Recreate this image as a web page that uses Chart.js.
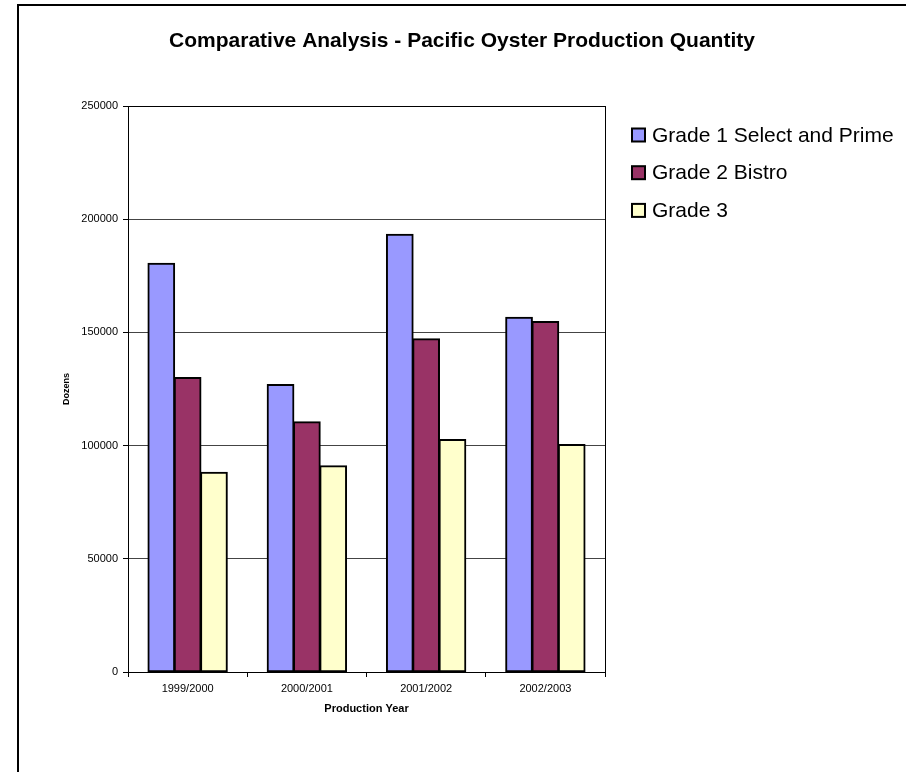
<!DOCTYPE html>
<html>
<head>
<meta charset="utf-8">
<title>Pacific Oyster Production Quantity</title>
<script src="https://cdn.jsdelivr.net/npm/chart.js@4/dist/chart.umd.min.js"></script>
<style>
    html, body { margin: 0; padding: 0; background: #fff; }
    #wrap { position: relative; width: 906px; height: 772px; }
</style>
</head>
<body>
<div id="wrap"><canvas id="oysterChart"></canvas></div>
<script>
// values (dozens)
const years = ['1999/2000', '2000/2001', '2001/2002', '2002/2003'];
const grade1 = [180400, 126900, 193300, 156600];
const grade2 = [130000, 110400, 147100, 154700];
const grade3 = [88100, 91000, 102600, 100400];
const seriesNames = ['Grade 1 Select and Prime', 'Grade 2 Bistro', 'Grade 3'];
const seriesColors = ['#9999FF', '#993366', '#FFFFCC'];
const chartTitle = 'Comparative Analysis - Pacific Oyster Production Quantity';

Chart.defaults.font.family = "'Liberation Sans', Arial, sans-serif";
Chart.defaults.color = '#000';

// frame, title, plot border and legend, drawn on top of the chart
const decorations = {
    id: 'decorations',
    afterDraw(chart) {
        const ctx = chart.ctx;
        const area = chart.chartArea;
        ctx.save();

        // outer frame (runs off the right and bottom edge)
        ctx.strokeStyle = '#000';
        ctx.lineWidth = 2;
        ctx.strokeRect(18, 5, 1000, 1000);

        // plot area border
        ctx.lineWidth = 1;
        ctx.strokeRect(Math.round(area.left) + 0.5, Math.round(area.top) + 0.5,
            Math.round(area.right - area.left), Math.round(area.bottom - area.top));

        // title
        ctx.fillStyle = '#000';
        ctx.font = "bold 21px 'Liberation Sans', Arial, sans-serif";
        ctx.textAlign = 'center';
        ctx.textBaseline = 'middle';
        ctx.fillText(chartTitle, 462, 41);

        // legend
        ctx.font = "21px 'Liberation Sans', Arial, sans-serif";
        ctx.textAlign = 'left';
        chart.data.datasets.forEach((ds, i) => {
            const cy = 135 + i * 37.7;
            ctx.fillStyle = ds.backgroundColor;
            ctx.fillRect(632, cy - 6.5, 13, 13);
            ctx.lineWidth = 2;
            ctx.strokeStyle = '#000';
            ctx.strokeRect(632, cy - 6.5, 13, 13);
            ctx.fillStyle = '#000';
            ctx.fillText(ds.label, 652, cy + 1);
        });
        ctx.restore();
    }
};

const ctx = document.getElementById('oysterChart').getContext('2d');
const oysterChart = new Chart(ctx, {
    type: 'bar',
    data: {
        labels: years,
        datasets: [grade1, grade2, grade3].map((vals, i) => ({
            label: seriesNames[i],
            data: vals,
            backgroundColor: seriesColors[i],
            borderColor: '#000',
            borderWidth: 2,
            borderSkipped: false,
            inflateAmount: 0.7,
            categoryPercentage: 0.6625,
            barPercentage: 1.0
        }))
    },
    options: {
        responsive: true,
        maintainAspectRatio: false,
        animation: false,
        devicePixelRatio: 1,
        layout: { padding: { left: 18, top: 106, right: 301, bottom: 0 } },
        plugins: {
            legend: { display: false },
            title: { display: false },
            tooltip: { enabled: false }
        },
        scales: {
            x: {
                grid: { display: true, drawOnChartArea: false, drawTicks: true, tickLength: 5, color: '#000' },
                border: { color: '#000', width: 1 },
                ticks: { font: { size: 11 }, padding: 5, maxRotation: 0 },
                title: {
                    display: true,
                    text: 'Production Year',
                    font: { size: 11, weight: 'bold' },
                    padding: { top: 0, bottom: 56 }
                },
                afterFit(scale) { scale.height = 100; }
            },
            y: {
                min: 0,
                max: 250000,
                ticks: {
                    stepSize: 50000,
                    font: { size: 11 },
                    padding: 5,
                    callback: (value) => String(value)
                },
                grid: { color: '#444', tickColor: '#000', tickLength: 5 },
                border: { color: '#000', width: 1 },
                title: {
                    display: true,
                    text: 'Dozens',
                    font: { size: 9, weight: 'bold' },
                    padding: { top: 43, bottom: 0 }
                },
                afterFit(scale) { scale.width = 110; }
            }
        }
    },
    plugins: [decorations]
});
</script>
</body>
</html>
